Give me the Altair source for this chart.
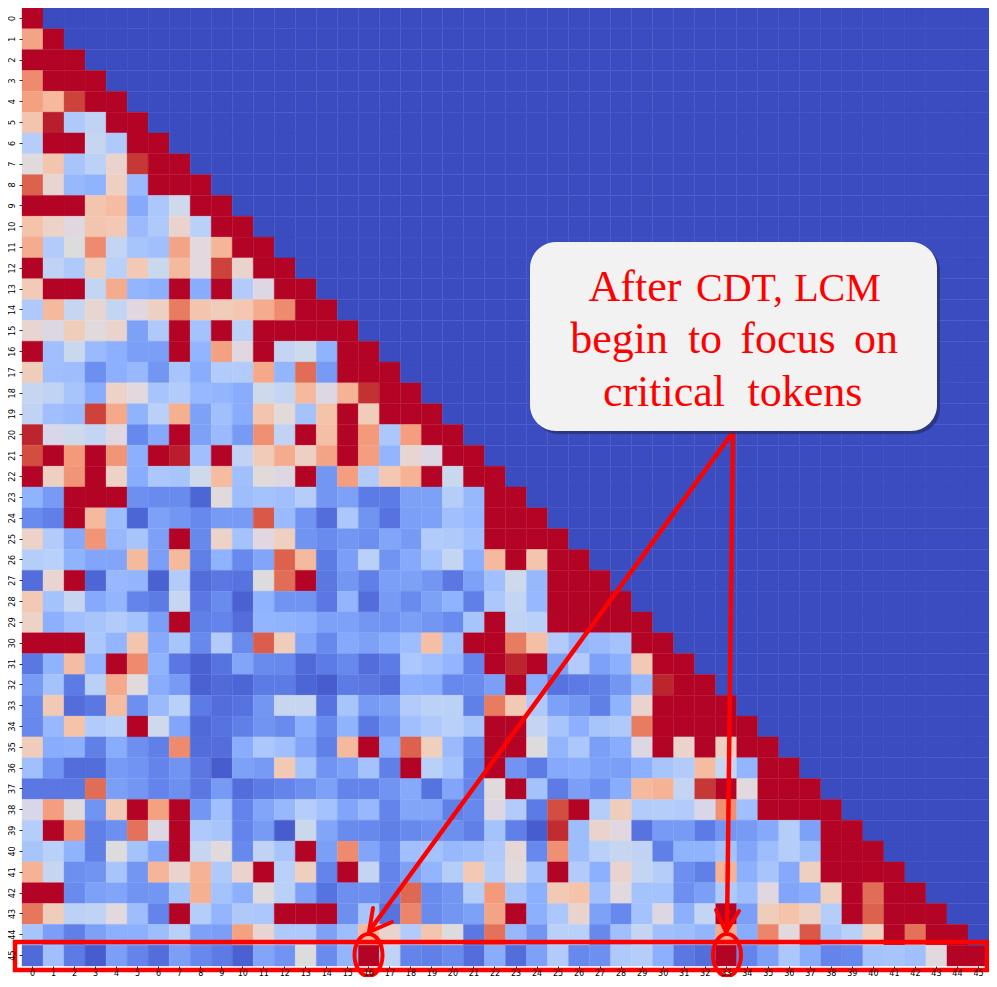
import altair as alt

ROWS = [
[100],
[72,100],
[100,100,100],
[78,100,100,100],
[73,66,92,100,100],
[62,98,35,40,100,100],
[37,100,100,42,35,100,100],
[49,62,33,39,54,94,100,100],
[86,53,28,26,56,29,100,100,100],
[100,100,100,62,65,23,34,44,100,100],
[63,55,47,62,60,29,35,54,38,100,100],
[70,36,50,78,41,33,31,72,48,67,100,100],
[100,40,35,58,38,60,43,66,48,92,54,100,100],
[59,100,100,41,70,27,25,100,24,100,36,46,100,100],
[35,66,42,53,41,47,56,81,62,58,61,70,78,100,100],
[53,46,58,49,54,21,35,100,32,100,39,100,100,100,100,100],
[100,31,43,29,25,20,20,100,27,73,47,100,41,44,26,100,100],
[58,31,30,16,25,28,18,33,24,36,36,71,27,84,19,100,100,100],
[42,40,33,24,55,48,33,36,28,27,24,44,41,66,46,68,95,100,100],
[40,31,29,92,71,26,38,69,21,31,24,62,51,32,63,100,58,100,100,100],
[97,45,44,41,47,14,23,100,21,29,19,77,40,100,64,100,75,34,74,100,100],
[90,100,75,100,76,25,100,98,31,100,40,59,70,56,72,100,74,27,53,46,100,100],
[100,56,76,100,55,24,34,33,44,65,31,51,46,100,18,74,36,61,68,100,43,100,100],
[26,19,100,100,100,16,15,15,6,49,30,32,31,37,18,21,11,11,21,21,37,28,100,100],
[15,12,100,66,30,6,21,18,14,19,19,88,29,17,8,34,17,9,20,21,31,28,100,100,100],
[55,36,23,76,28,33,21,100,14,55,32,47,57,17,15,18,16,22,19,36,35,31,100,100,100,100],
[37,38,26,22,22,66,20,66,12,26,14,22,86,66,11,20,38,17,23,32,41,25,66,100,62,100,100],
[8,53,100,6,28,27,5,36,8,10,9,50,84,100,10,18,12,20,21,18,10,21,31,44,28,100,100,100],
[60,32,42,23,27,13,11,42,10,15,5,26,17,17,10,27,8,19,15,21,26,12,34,41,28,100,100,100,100],
[55,25,31,33,36,32,20,100,12,13,8,27,26,25,21,21,18,17,20,18,15,33,100,40,38,100,100,100,100,100],
[100,100,100,34,27,62,23,33,14,36,15,87,58,22,14,23,21,24,30,64,31,100,100,81,64,36,27,29,32,100,100],
[10,26,65,27,100,78,26,10,5,9,22,15,14,7,11,14,8,11,34,31,27,13,100,97,100,21,36,21,25,60,100,100],
[19,32,11,38,71,49,24,19,5,7,6,11,11,6,4,11,10,8,25,24,14,15,20,100,24,9,11,12,18,28,97,100,100],
[15,60,8,10,65,16,29,38,11,8,9,18,42,42,9,33,19,21,36,39,39,12,81,60,35,21,18,12,26,54,100,100,100,100],
[14,28,63,36,38,100,44,22,7,9,12,17,15,25,14,26,10,17,31,35,38,33,100,100,41,33,25,33,35,81,100,100,100,100,100],
[58,24,25,12,24,16,12,78,8,8,24,34,31,22,12,66,100,24,86,57,29,16,100,100,50,27,34,20,24,46,100,54,100,56,100,100],
[31,17,8,8,19,17,13,17,10,4,21,19,60,32,17,21,32,12,100,38,32,13,100,17,11,23,24,21,20,25,33,36,65,42,27,100,100],
[10,10,10,84,20,18,13,16,10,19,8,11,13,16,21,13,13,17,23,9,22,13,49,100,32,11,20,16,24,66,68,41,94,100,48,100,100,100],
[45,74,49,17,60,100,73,100,18,31,13,22,28,37,32,22,28,13,22,22,12,14,46,36,11,90,100,37,58,36,37,36,45,77,31,100,100,100,100],
[37,100,76,12,16,83,46,100,35,33,13,19,4,43,22,15,14,12,14,16,16,12,32,12,4,96,30,54,47,9,19,19,11,18,19,23,37,21,100,100],
[33,38,26,12,50,32,22,100,42,49,14,40,33,100,20,78,22,15,31,32,28,30,35,52,14,77,30,38,42,40,12,26,26,32,22,30,37,30,100,100,100],
[68,42,16,17,33,18,67,54,68,35,54,100,38,57,13,100,41,13,21,27,37,60,37,49,32,100,36,25,54,41,37,16,12,68,25,33,23,56,100,100,100,100],
[100,100,15,21,22,17,18,32,69,32,25,49,38,21,9,16,16,13,85,15,18,37,75,33,25,60,63,31,48,32,32,16,20,35,30,47,22,24,57,100,84,100,100],
[82,58,39,40,48,30,13,100,37,27,35,34,100,100,100,16,33,9,79,15,18,21,72,100,25,34,54,21,14,32,46,25,41,100,20,58,63,56,37,100,86,100,100,100],
[33,20,12,21,25,25,30,38,21,20,73,53,35,35,21,30,66,54,36,62,50,10,83,28,18,38,38,14,31,41,31,30,27,70,24,79,48,88,33,38,57,100,83,100,100],
[7,31,11,4,20,13,8,20,14,11,5,22,17,50,15,27,100,40,13,12,15,8,24,8,21,36,14,16,35,37,25,10,8,100,13,21,34,24,13,14,32,33,31,48,100,100],
]
N = 46
TICKS = list(range(N))
WORDS = ["After", "CDT,", "LCM", "begin", "to", "focus", "on", "critical", "tokens"]
WORD_X = [635, 739.5, 837.5, 619, 705, 788, 876, 664, 805]
WORD_Y = [301, 301, 301, 353, 353, 353, 353, 406, 406]
WORD_SIZE = [44, 40, 40, 44, 44, 44, 44, 44, 44]
STOPS = [0, 12.5, 25, 37.5, 43.75, 50, 56.25, 62.5, 75, 87.5, 100]
COLORS = ["#3b4cc0", "#6282ea", "#8db0fe", "#b7cff9", "#cdd9ec", "#dddcdc", "#eed0c0",
          "#f5c4ac", "#f49a7b", "#da5a49", "#b40426"]

for i, r in enumerate(ROWS):
    assert len(r) == i + 1, i

table = [{"row": i, "col": j, "v": (ROWS[i][j] if j < len(ROWS[i]) else 0)}
         for i in range(N) for j in range(N)]

W, H = 967, 958
OX, OY = 22, 8   # page position of the plot's corner
RED = "#ff0000"
one = alt.Data(values=[{"a": 1}])
cscale = alt.Scale(domain=STOPS, range=COLORS, clamp=True)

heat = alt.Chart(alt.Data(values=table)).mark_rect(strokeWidth=0.35).encode(
    x=alt.X("col:O", sort=TICKS, title=None,
            scale=alt.Scale(paddingInner=0, paddingOuter=0),
            axis=alt.Axis(labelAngle=0, labelFontSize=8, tickSize=2, tickWidth=0.8,
                          tickColor="#000", labelColor="#000", domain=False,
                          labelFont="DejaVu Sans", labelPadding=1, ticks=True)),
    y=alt.Y("row:O", sort=TICKS, title=None,
            scale=alt.Scale(paddingInner=0, paddingOuter=0),
            axis=alt.Axis(labelAngle=270, labelFontSize=8, tickSize=3, tickWidth=0.8,
                          tickColor="#000", labelColor="#000", domain=False,
                          labelFont="DejaVu Sans", labelPadding=3,
                          labelAlign="center", labelBaseline="bottom")),
    color=alt.Color("v:Q", legend=None, scale=cscale),
    stroke=alt.Stroke("v:Q", legend=None, scale=cscale),
)

def px(x): return alt.value(x - OX)
def py(y): return alt.value(y - OY)

def seg(x1, y1, x2, y2, w=4):
    return alt.Chart(one).mark_rule(color=RED, strokeWidth=w, strokeCap="round").encode(
        x=px(x1), y=py(y1), x2=px(x2), y2=py(y2))

def box(x1, y1, x2, y2, **kw):
    return alt.Chart(one).mark_rect(**kw).encode(
        x=px(x1), y=py(y1), x2=px(x2), y2=py(y2))

def ellipse(cx, cy):
    return alt.Chart(one).mark_point(
        shape="M-.14,0 A.14,.21 0 1,1 .14,0 A.14,.21 0 1,1 -.14,0 Z",
        filled=False, stroke=RED, strokeWidth=4, opacity=1, size=40000
    ).encode(x=px(cx), y=py(cy))

def label(txt, x, base, size):
    return alt.Chart(one).mark_text(
        text=txt, color=RED, font="Liberation Serif", fontSize=size,
        align="center", baseline="alphabetic"
    ).encode(x=px(x), y=py(base))

layers = [heat,
    seg(733, 432, 370, 930, 4.5),
    seg(733, 432, 727, 930, 4.5),
    seg(369, 932, 373, 908), seg(369, 932, 392, 922),
    seg(726, 932, 716, 910), seg(726, 932, 739, 911),
    box(15, 942, 987, 970, fill="transparent", stroke=RED, strokeWidth=4.5),
    ellipse(368.5, 955), ellipse(727, 955),
    box(533, 245, 940, 434, fill="#27306f", opacity=0.75, cornerRadius=26),
    box(530, 242, 937, 431, fill="#f2f2f2", cornerRadius=26),
] + [label(w, x, y, s) for w, x, y, s in zip(WORDS, WORD_X, WORD_Y, WORD_SIZE)]

chart = alt.layer(*layers).properties(
    width=W, height=H,
    autosize=alt.AutoSizeParams(type="none"),
    padding={"left": OX - 8, "top": OY - 8, "right": 0, "bottom": 11},
).configure_view(stroke=None)

chart.save("out.html", embed_options={"renderer": "svg", "actions": False})
